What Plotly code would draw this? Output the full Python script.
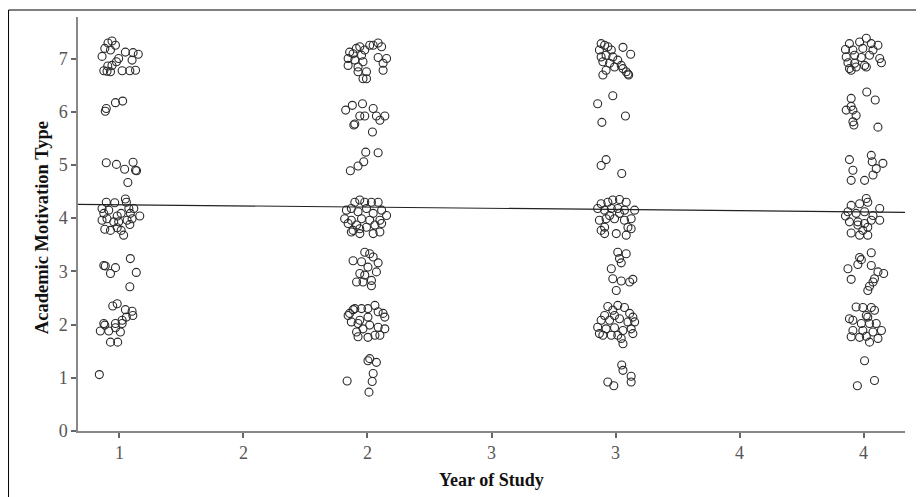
import plotly.graph_objects as go

# ---- data: jittered (year, motivation type) points ----
year1_x = [0.930, 0.941, 0.954, 0.970, 0.984, 0.964, 0.997, 0.988, 0.970, 0.953, 0.937, 0.950, 0.964, 1.011, 1.042, 1.065, 1.024, 1.055, 1.076, 1.051,
           0.943, 0.947, 0.984, 1.013,
           0.947, 0.988, 1.021, 1.055, 1.065, 1.069, 1.034,
           0.947, 0.981, 1.024, 1.028, 0.930, 0.937, 0.957, 0.950, 0.991, 1.007, 1.038, 1.058, 1.044, 1.082, 1.051, 1.031, 0.977, 0.941, 0.964, 0.991, 1.007, 1.017, 1.042, 0.930, 0.997,
           0.937, 0.943, 0.964, 0.984, 1.044, 1.068, 1.042,
           0.973, 0.991, 1.024, 1.051, 1.054, 1.028, 1.011, 0.937, 0.941, 0.984, 1.011, 0.923, 0.957, 0.984, 1.004, 0.964, 0.993,
           0.919]
year1_y = [7.04, 7.19, 7.29, 7.33, 7.25, 7.16, 7.00, 6.94, 6.87, 6.86, 6.77, 6.76, 6.75, 6.77, 6.77, 6.78, 7.12, 7.11, 7.08, 6.97,
           6.01, 6.06, 6.17, 6.20,
           5.04, 5.01, 4.92, 5.05, 4.90, 4.89, 4.67,
           4.30, 4.29, 4.36, 4.30, 4.18, 4.09, 4.15, 3.99, 4.04, 4.09, 4.18, 4.18, 4.09, 4.04, 3.99, 3.96, 3.93, 3.79, 3.77, 3.82, 3.77, 3.68, 3.88, 3.96, 3.93,
           3.11, 3.10, 2.96, 3.07, 3.24, 2.98, 2.71,
           2.35, 2.39, 2.28, 2.25, 2.17, 2.14, 2.08, 2.02, 1.99, 2.02, 2.02, 1.88, 1.88, 1.94, 1.86, 1.67, 1.67,
           1.06]

year2_x = [1.928, 1.922, 1.922, 1.942, 1.949, 1.969, 1.976, 1.982, 1.962, 1.962, 1.996, 1.982, 1.996, 2.009, 1.989, 2.043, 2.057, 2.043, 2.077, 2.063, 2.063, 2.023, 1.955,
           1.912, 1.939, 1.980, 1.969, 1.989, 2.023, 2.036, 2.050, 2.070, 1.945, 1.949, 2.020,
           1.993, 2.043, 1.985, 1.962, 1.931,
           1.949, 1.969, 1.989, 2.016, 2.043, 1.915, 1.935, 1.962, 1.996, 2.023, 2.057, 1.908, 1.935, 1.976, 2.009, 2.050, 1.956, 1.996, 2.030, 1.922, 1.942, 1.969, 2.057, 1.969, 2.023, 2.050, 1.935, 2.077,
           1.989, 2.009, 1.942, 1.976, 2.023, 2.043, 2.002, 1.969, 1.989, 2.036, 1.956, 1.982, 2.016, 2.016,
           1.928, 1.949, 1.942, 1.976, 2.002, 2.030, 2.043, 2.063, 2.070, 1.935, 1.962, 1.969, 2.002, 2.009, 2.043, 2.070, 1.956, 1.962, 2.002, 2.030, 2.050, 1.982, 1.922,
           2.002, 2.009, 2.036, 2.023, 2.019, 1.918, 2.006]
year2_y = [7.12, 7.00, 6.87, 7.09, 6.97, 7.22, 7.06, 6.94, 6.84, 6.75, 6.75, 6.62, 6.62, 7.25, 7.16, 7.29, 7.22, 7.02, 7.00, 6.91, 6.78, 7.25, 7.19,
           6.03, 6.12, 6.15, 5.92, 5.92, 6.06, 5.92, 5.84, 5.92, 5.75, 5.77, 5.62,
           5.24, 5.23, 5.06, 4.98, 4.89,
           4.30, 4.34, 4.30, 4.30, 4.30, 4.15, 4.18, 4.12, 4.18, 4.09, 4.15, 3.99, 3.96, 3.99, 3.96, 3.96, 3.87, 3.83, 3.87, 3.90, 3.77, 3.80, 3.90, 3.71, 3.71, 3.74, 3.74, 4.05,
           3.36, 3.33, 3.20, 3.18, 3.27, 3.16, 3.08, 2.96, 2.93, 2.99, 2.80, 2.80, 2.83, 2.73,
           2.21, 2.30, 2.28, 2.30, 2.30, 2.36, 2.24, 2.21, 2.14, 2.05, 2.02, 2.08, 2.14, 1.99, 1.95, 1.92, 1.86, 1.77, 1.76, 1.80, 1.80, 1.92, 2.17,
           1.32, 1.36, 1.29, 1.08, 0.93, 0.94, 0.73]

year3_x = [2.942, 2.956, 2.969, 2.935, 2.983, 3.030, 3.061, 2.942, 2.962, 2.989, 3.009, 2.949, 2.976, 3.023, 2.996, 2.962, 2.949, 3.030, 3.043, 3.050, 3.053,
           2.989, 2.928, 3.040, 2.945,
           2.962, 2.942, 3.025,
           2.942, 2.969, 2.989, 3.016, 3.043, 2.928, 2.956, 2.983, 3.009, 3.036, 3.077, 2.935, 2.962, 2.996, 3.036, 3.063, 2.956, 3.050, 2.956, 3.003, 3.043, 3.063, 2.942, 2.976, 3.016,
           3.009, 3.043, 3.016, 3.023, 2.983, 2.989, 3.023, 3.057, 3.070, 3.003,
           2.969, 3.009, 3.036, 2.989, 2.956, 2.996, 3.057, 3.070, 2.942, 2.976, 3.016, 3.050, 3.077, 2.928, 2.962, 2.996, 3.030, 3.063, 2.935, 2.949, 2.983, 3.009, 3.070, 3.023, 3.030,
           3.025, 3.030, 3.063, 3.063, 2.969, 2.993]
year3_y = [7.28, 7.25, 7.22, 7.16, 7.16, 7.21, 7.08, 7.03, 7.06, 7.03, 6.97, 6.94, 6.91, 6.87, 6.84, 6.78, 6.69, 6.81, 6.75, 6.71, 6.69,
           6.30, 6.15, 5.92, 5.80,
           5.10, 4.99, 4.84,
           4.27, 4.30, 4.34, 4.35, 4.30, 4.18, 4.15, 4.18, 4.18, 4.15, 4.15, 3.96, 3.99, 3.99, 3.96, 3.99, 3.83, 3.83, 3.71, 3.71, 3.68, 3.80, 3.77, 4.05, 4.09,
           3.36, 3.33, 3.24, 3.16, 3.05, 2.86, 2.82, 2.80, 2.85, 2.64,
           2.34, 2.36, 2.32, 2.27, 2.17, 2.17, 2.21, 2.14, 2.08, 2.08, 2.11, 2.05, 2.05, 1.95, 1.92, 1.94, 1.89, 1.92, 1.83, 1.80, 1.80, 1.80, 1.83, 1.74, 1.64,
           1.24, 1.14, 1.03, 0.92, 0.92, 0.85]

year4_x = [3.943, 3.984, 4.011, 4.031, 4.058, 3.927, 3.957, 3.997, 4.038, 3.930, 3.964, 3.991, 4.024, 4.065, 3.937, 3.964, 4.004, 4.072, 3.943, 3.970, 4.011, 3.950,
           4.013, 3.950, 4.047, 3.950, 3.930, 3.957, 3.970, 3.957, 3.961, 4.058,
           3.943, 4.031, 4.035, 4.078, 3.957, 4.051, 3.950, 4.004, 4.038,
           4.011, 3.950, 3.984, 4.017, 4.065, 3.937, 3.970, 4.004, 4.038, 3.943, 3.977, 4.004, 4.065, 4.031, 3.977, 4.017, 3.950, 3.984, 4.017, 3.997, 3.927,
           4.031, 3.984, 3.991, 3.977, 4.031, 3.937, 4.058, 4.081, 4.044, 3.950, 4.038, 4.024, 4.017,
           3.970, 3.997, 4.031, 4.044, 3.943, 3.957, 4.011, 3.991, 4.024, 4.051, 4.072, 3.957, 3.997, 4.038, 3.950, 3.984, 4.011, 4.058, 4.024, 4.017,
           4.004, 4.044, 3.975]
year4_y = [7.28, 7.31, 7.38, 7.28, 7.25, 7.17, 7.16, 7.19, 7.16, 7.03, 7.06, 7.02, 7.06, 7.00, 6.92, 6.91, 6.87, 6.92, 6.81, 6.84, 6.84, 6.78,
           6.37, 6.25, 6.22, 6.10, 6.03, 6.03, 5.93, 5.81, 5.75, 5.71,
           5.10, 5.18, 5.06, 5.03, 4.90, 4.93, 4.71, 4.71, 4.81,
           4.37, 4.24, 4.27, 4.30, 4.18, 4.12, 4.09, 4.12, 4.05, 3.93, 3.93, 3.90, 3.96, 3.96, 3.87, 3.83, 3.72, 3.68, 3.68, 3.77, 4.04,
           3.35, 3.26, 3.22, 3.13, 3.11, 3.05, 2.99, 2.96, 2.86, 2.85, 2.80, 2.72, 2.64,
           2.33, 2.32, 2.32, 2.27, 2.11, 2.08, 2.17, 2.02, 2.02, 2.02, 1.89, 1.89, 1.89, 1.86, 1.77, 1.76, 1.78, 1.74, 1.67, 2.14,
           1.32, 0.95, 0.85]

# fitted regression line
fit_x = [0.833, 4.167]
fit_y = [4.26, 4.11]

x_tickvals = [1, 1.5, 2, 2.5, 3, 3.5, 4]
x_ticktext = ["1", "2", "2", "3", "3", "4", "4"]
y_tickvals = [0, 1, 2, 3, 4, 5, 6, 7]

fig = go.Figure()

all_x = year1_x + year2_x + year3_x + year4_x
all_y = year1_y + year2_y + year3_y + year4_y
fig.add_trace(go.Scatter(
    x=all_x, y=all_y, mode="markers",
    marker=dict(symbol="circle-open", size=8, color="#2a2a2a", line=dict(width=1.1, color="#2a2a2a")),
    showlegend=False, hoverinfo="skip"))

fig.add_trace(go.Scatter(
    x=fit_x, y=fit_y, mode="lines",
    line=dict(color="#222222", width=1.2), showlegend=False, hoverinfo="skip"))

serif = "Liberation Serif, Times New Roman, serif"
tick_font = dict(family=serif, size=18, color="#555555")

# page body has an 8px margin, so the figure is 8px smaller than the window
fig.update_layout(
    width=916, height=489,
    margin=dict(l=70, r=19, t=9, b=66),
    paper_bgcolor="white", plot_bgcolor="white",
    xaxis=dict(range=[0.833, 4.167], tickvals=x_tickvals, ticktext=x_ticktext,
               ticks="outside", ticklen=5, tickwidth=1.5, tickcolor="#666666",
               showline=True, linecolor="#888888", linewidth=1.5,
               showgrid=False, zeroline=False, tickfont=tick_font),
    yaxis=dict(range=[0, 7.78], tickvals=y_tickvals,
               ticks="outside", ticklen=5, tickwidth=1.5, tickcolor="#666666",
               showline=True, linecolor="#888888", linewidth=1.5,
               showgrid=False, zeroline=False, tickfont=tick_font),
    annotations=[
        dict(text="<b>Academic Motivation Type</b>", xref="paper", yref="paper",
             x=-0.0435, y=0.49, textangle=-90, showarrow=False,
             xanchor="center", yanchor="middle",
             font=dict(family=serif, size=18.5, color="#111111")),
        dict(text="<b>Year of Study</b>", xref="paper", yref="paper",
             x=0.5, y=-0.119, showarrow=False, xanchor="center", yanchor="middle",
             font=dict(family=serif, size=18, color="#111111")),
    ],
    shapes=[
        dict(type="line", xref="paper", yref="paper", x0=-0.084, x1=1.03, y0=1.0169, y1=1.0169,
             line=dict(color="black", width=1)),
        dict(type="line", xref="paper", yref="paper", x0=-0.084, x1=-0.084, y0=-0.2, y1=1.0169,
             line=dict(color="black", width=1)),
    ],
)

fig.write_html("out.html")
